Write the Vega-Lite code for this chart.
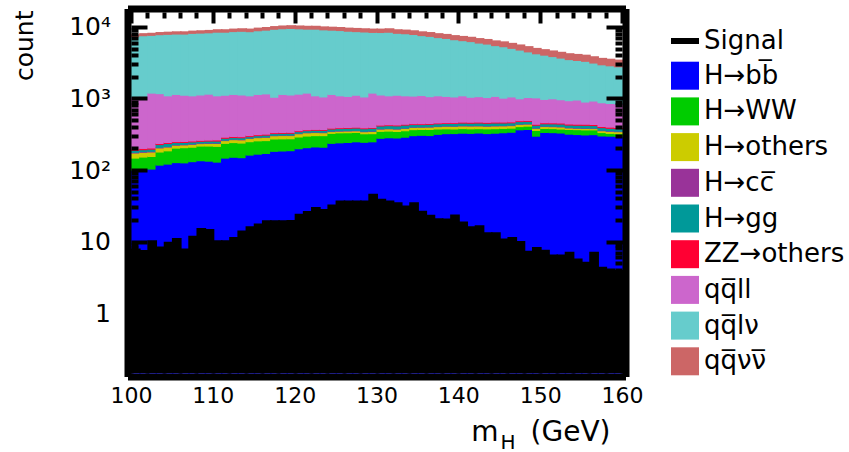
{
  "$schema": "https://vega.github.io/schema/vega-lite/v6.json",
  "width": 491,
  "height": 361,
  "autosize": {"type": "none"},
  "padding": {"left": 131, "top": 12, "right": 227, "bottom": 79},
  "background": "white",
  "config": {
    "font": "DejaVu Sans",
    "view": {"stroke": null},
    "axis": {"grid": false, "domain": false, "ticks": false, "labels": false, "labelOverlap": false, "labelFlush": false, "titleColor": "black", "labelColor": "black", "tickColor": "black", "domainColor": "black", "tickWidth": 4}
  },
  "datasets": {
    "mass": [
      {"m": 100, "signal": 8, "bb": 100, "WW": 48, "others": 26, "cc": 4, "gg": 12, "ZZ": 8, "qqll": 852, "qqlv": 6297, "qqvv": 553},
      {"m": 101, "signal": 7.6, "bb": 103, "WW": 50, "others": 25, "cc": 4, "gg": 12, "ZZ": 8, "qqll": 878, "qqlv": 6538, "qqvv": 582},
      {"m": 102, "signal": 10.4, "bb": 104, "WW": 52, "others": 24, "cc": 4, "gg": 13, "ZZ": 8, "qqll": 995, "qqlv": 6502, "qqvv": 598},
      {"m": 103, "signal": 8.5, "bb": 118, "WW": 62, "others": 25, "cc": 4, "gg": 20, "ZZ": 8, "qqll": 943, "qqlv": 6691, "qqvv": 629},
      {"m": 104, "signal": 9.9, "bb": 122, "WW": 65, "others": 24, "cc": 4, "gg": 22, "ZZ": 8, "qqll": 855, "qqlv": 6855, "qqvv": 645},
      {"m": 105, "signal": 11.2, "bb": 128, "WW": 76, "others": 20, "cc": 4, "gg": 16, "ZZ": 8, "qqll": 898, "qqlv": 6889, "qqvv": 661},
      {"m": 106, "signal": 8, "bb": 127, "WW": 80, "others": 19, "cc": 4, "gg": 15, "ZZ": 8, "qqll": 867, "qqlv": 6910, "qqvv": 670},
      {"m": 107, "signal": 12, "bb": 132, "WW": 78, "others": 20, "cc": 4, "gg": 15, "ZZ": 8, "qqll": 843, "qqlv": 7106, "qqvv": 694},
      {"m": 108, "signal": 15.5, "bb": 136, "WW": 82, "others": 18, "cc": 4, "gg": 14, "ZZ": 8, "qqll": 868, "qqlv": 7150, "qqvv": 720},
      {"m": 109, "signal": 15, "bb": 134, "WW": 84, "others": 19, "cc": 4, "gg": 15, "ZZ": 8, "qqll": 896, "qqlv": 7203, "qqvv": 737},
      {"m": 110, "signal": 10.4, "bb": 130, "WW": 86, "others": 21, "cc": 4, "gg": 15, "ZZ": 10, "qqll": 834, "qqlv": 7437, "qqvv": 763},
      {"m": 111, "signal": 10.4, "bb": 148, "WW": 90, "others": 22, "cc": 4, "gg": 16, "ZZ": 10, "qqll": 830, "qqlv": 7408, "qqvv": 772},
      {"m": 112, "signal": 11.6, "bb": 152, "WW": 92, "others": 24, "cc": 4, "gg": 15, "ZZ": 10, "qqll": 853, "qqlv": 7552, "qqvv": 798},
      {"m": 113, "signal": 14.3, "bb": 150, "WW": 90, "others": 26, "cc": 4, "gg": 15, "ZZ": 10, "qqll": 835, "qqlv": 7644, "qqvv": 826},
      {"m": 114, "signal": 16.3, "bb": 163, "WW": 88, "others": 27, "cc": 4, "gg": 14, "ZZ": 10, "qqll": 794, "qqlv": 7573, "qqvv": 827},
      {"m": 115, "signal": 17.8, "bb": 168, "WW": 90, "others": 28, "cc": 4, "gg": 15, "ZZ": 10, "qqll": 835, "qqlv": 7788, "qqvv": 862},
      {"m": 116, "signal": 19.8, "bb": 172, "WW": 88, "others": 29, "cc": 4, "gg": 17, "ZZ": 10, "qqll": 850, "qqlv": 7940, "qqvv": 890},
      {"m": 117, "signal": 19.8, "bb": 184, "WW": 90, "others": 30, "cc": 4, "gg": 18, "ZZ": 10, "qqll": 714, "qqlv": 8323, "qqvv": 927},
      {"m": 118, "signal": 19.8, "bb": 186, "WW": 89, "others": 31, "cc": 4, "gg": 18, "ZZ": 10, "qqll": 812, "qqlv": 8384, "qqvv": 966},
      {"m": 119, "signal": 20, "bb": 188, "WW": 88, "others": 30, "cc": 4, "gg": 19, "ZZ": 10, "qqll": 791, "qqlv": 8484, "qqvv": 986},
      {"m": 120, "signal": 24.5, "bb": 200, "WW": 92, "others": 32, "cc": 5, "gg": 18, "ZZ": 11, "qqll": 802, "qqlv": 8353, "qqvv": 987},
      {"m": 121, "signal": 26.7, "bb": 207, "WW": 94, "others": 33, "cc": 5, "gg": 19, "ZZ": 11, "qqll": 831, "qqlv": 8212, "qqvv": 988},
      {"m": 122, "signal": 30.3, "bb": 212, "WW": 93, "others": 32, "cc": 5, "gg": 20, "ZZ": 11, "qqll": 727, "qqlv": 8302, "qqvv": 998},
      {"m": 123, "signal": 28.5, "bb": 210, "WW": 95, "others": 30, "cc": 5, "gg": 21, "ZZ": 11, "qqll": 688, "qqlv": 8140, "qqvv": 1000},
      {"m": 124, "signal": 33, "bb": 238, "WW": 90, "others": 20, "cc": 5, "gg": 24, "ZZ": 11, "qqll": 762, "qqlv": 7950, "qqvv": 1000},
      {"m": 125, "signal": 37.5, "bb": 242, "WW": 92, "others": 18, "cc": 5, "gg": 26, "ZZ": 11, "qqll": 706, "qqlv": 7900, "qqvv": 1000},
      {"m": 126, "signal": 37.5, "bb": 245, "WW": 90, "others": 19, "cc": 5, "gg": 27, "ZZ": 11, "qqll": 683, "qqlv": 7720, "qqvv": 1000},
      {"m": 127, "signal": 37.5, "bb": 250, "WW": 88, "others": 18, "cc": 5, "gg": 28, "ZZ": 11, "qqll": 720, "qqlv": 7571, "qqvv": 1009},
      {"m": 128, "signal": 37.5, "bb": 246, "WW": 78, "others": 22, "cc": 5, "gg": 30, "ZZ": 11, "qqll": 668, "qqlv": 7522, "qqvv": 1018},
      {"m": 129, "signal": 46.4, "bb": 250, "WW": 75, "others": 24, "cc": 5, "gg": 32, "ZZ": 11, "qqll": 803, "qqlv": 7264, "qqvv": 1036},
      {"m": 130, "signal": 39.6, "bb": 280, "WW": 70, "others": 26, "cc": 5, "gg": 35, "ZZ": 12, "qqll": 702, "qqlv": 7315, "qqvv": 1055},
      {"m": 131, "signal": 37.5, "bb": 285, "WW": 68, "others": 27, "cc": 5, "gg": 36, "ZZ": 12, "qqll": 667, "qqlv": 7415, "qqvv": 1085},
      {"m": 132, "signal": 35.5, "bb": 283, "WW": 66, "others": 27, "cc": 5, "gg": 37, "ZZ": 12, "qqll": 690, "qqlv": 7110, "qqvv": 1070},
      {"m": 133, "signal": 32, "bb": 290, "WW": 67, "others": 28, "cc": 5, "gg": 38, "ZZ": 12, "qqll": 660, "qqlv": 7024, "qqvv": 1076},
      {"m": 134, "signal": 35.5, "bb": 305, "WW": 65, "others": 28, "cc": 5, "gg": 33, "ZZ": 12, "qqll": 642, "qqlv": 6839, "qqvv": 1071},
      {"m": 135, "signal": 27, "bb": 308, "WW": 64, "others": 27, "cc": 5, "gg": 32, "ZZ": 12, "qqll": 662, "qqlv": 6537, "qqvv": 1053},
      {"m": 136, "signal": 23.7, "bb": 306, "WW": 66, "others": 29, "cc": 5, "gg": 33, "ZZ": 12, "qqll": 619, "qqlv": 6376, "qqvv": 1054},
      {"m": 137, "signal": 21.2, "bb": 318, "WW": 60, "others": 30, "cc": 5, "gg": 34, "ZZ": 12, "qqll": 641, "qqlv": 6067, "qqvv": 1033},
      {"m": 138, "signal": 20.9, "bb": 325, "WW": 55, "others": 33, "cc": 5, "gg": 33, "ZZ": 12, "qqll": 617, "qqlv": 5896, "qqvv": 1024},
      {"m": 139, "signal": 23.9, "bb": 326, "WW": 52, "others": 34, "cc": 5, "gg": 34, "ZZ": 12, "qqll": 597, "qqlv": 5639, "qqvv": 1001},
      {"m": 140, "signal": 19.1, "bb": 330, "WW": 53, "others": 33, "cc": 6, "gg": 35, "ZZ": 14, "qqll": 629, "qqlv": 5395, "qqvv": 1005},
      {"m": 141, "signal": 16.3, "bb": 328, "WW": 52, "others": 35, "cc": 6, "gg": 34, "ZZ": 14, "qqll": 581, "qqlv": 5250, "qqvv": 1000},
      {"m": 142, "signal": 16.9, "bb": 332, "WW": 50, "others": 34, "cc": 6, "gg": 36, "ZZ": 14, "qqll": 598, "qqlv": 4943, "qqvv": 987},
      {"m": 143, "signal": 13.5, "bb": 326, "WW": 54, "others": 33, "cc": 6, "gg": 35, "ZZ": 14, "qqll": 572, "qqlv": 4781, "qqvv": 979},
      {"m": 144, "signal": 13.5, "bb": 330, "WW": 52, "others": 34, "cc": 6, "gg": 36, "ZZ": 14, "qqll": 608, "qqlv": 4458, "qqvv": 962},
      {"m": 145, "signal": 11, "bb": 335, "WW": 50, "others": 32, "cc": 6, "gg": 35, "ZZ": 14, "qqll": 548, "qqlv": 4329, "qqvv": 951},
      {"m": 146, "signal": 11.6, "bb": 340, "WW": 48, "others": 33, "cc": 6, "gg": 34, "ZZ": 14, "qqll": 585, "qqlv": 4010, "qqvv": 930},
      {"m": 147, "signal": 10.2, "bb": 368, "WW": 40, "others": 30, "cc": 6, "gg": 36, "ZZ": 14, "qqll": 506, "qqlv": 3799, "qqvv": 901},
      {"m": 148, "signal": 7.4, "bb": 372, "WW": 42, "others": 28, "cc": 6, "gg": 35, "ZZ": 14, "qqll": 543, "qqlv": 3485, "qqvv": 875},
      {"m": 149, "signal": 8.4, "bb": 300, "WW": 60, "others": 26, "cc": 6, "gg": 34, "ZZ": 14, "qqll": 590, "qqlv": 3228, "qqvv": 842},
      {"m": 150, "signal": 7.7, "bb": 338, "WW": 46, "others": 25, "cc": 6, "gg": 32, "ZZ": 15, "qqll": 518, "qqlv": 3092, "qqvv": 828},
      {"m": 151, "signal": 6.6, "bb": 336, "WW": 47, "others": 24, "cc": 6, "gg": 33, "ZZ": 15, "qqll": 539, "qqlv": 2892, "qqvv": 808},
      {"m": 152, "signal": 6.6, "bb": 332, "WW": 45, "others": 26, "cc": 6, "gg": 34, "ZZ": 15, "qqll": 512, "qqlv": 2738, "qqvv": 792},
      {"m": 153, "signal": 7.2, "bb": 320, "WW": 52, "others": 18, "cc": 6, "gg": 33, "ZZ": 15, "qqll": 496, "qqlv": 2590, "qqvv": 770},
      {"m": 154, "signal": 5.8, "bb": 316, "WW": 54, "others": 16, "cc": 6, "gg": 34, "ZZ": 15, "qqll": 519, "qqlv": 2471, "qqvv": 769},
      {"m": 155, "signal": 5.2, "bb": 312, "WW": 55, "others": 17, "cc": 6, "gg": 35, "ZZ": 15, "qqll": 460, "qqlv": 2437, "qqvv": 763},
      {"m": 156, "signal": 7.2, "bb": 315, "WW": 52, "others": 16, "cc": 6, "gg": 33, "ZZ": 15, "qqll": 493, "qqlv": 2229, "qqvv": 741},
      {"m": 157, "signal": 4.45, "bb": 302, "WW": 35, "others": 20, "cc": 6, "gg": 32, "ZZ": 15, "qqll": 470, "qqlv": 2106, "qqvv": 714},
      {"m": 158, "signal": 4.2, "bb": 300, "WW": 28, "others": 22, "cc": 6, "gg": 30, "ZZ": 15, "qqll": 459, "qqlv": 2031, "qqvv": 709},
      {"m": 159, "signal": 4, "bb": 298, "WW": 27, "others": 21, "cc": 6, "gg": 30, "ZZ": 15, "qqll": 453, "qqlv": 1950, "qqvv": 700}
    ]
  },
  "data": {"name": "mass"},
  "transform": [{"calculate": "datum.m + 1", "as": "m_end"}],
  "resolve": {"axis": {"x": "independent", "y": "independent"}},
  "layer": [
    {
      "transform": [
        {"fold": ["bb", "WW", "others", "cc", "gg", "ZZ", "qqll", "qqlv", "qqvv"], "as": ["process", "count"]},
        {"stack": "count", "groupby": ["m"], "as": ["lo", "hi"]}
      ],
      "mark": {"type": "rect", "x2Offset": 1.5, "y2Offset": 0.8, "invalid": "show"},
      "encoding": {
        "x": {"field": "m", "type": "quantitative",
          "scale": {"domain": [100, 160], "nice": false, "zero": false},
          "axis": {"orient": "bottom", "values": [100, 110, 120, 130, 140, 150, 160], "zindex": 1,
            "labels": true, "labelFontSize": 22, "labelPadding": 9,
            "domain": true, "domainWidth": 7, "domainCap": "square", "offset": 3.5,
            "title": "(GeV)", "titleFontSize": 28, "titleFontWeight": "normal", "titleAlign": "right", "titleAnchor": "end",
            "titleX": 479, "titleY": 63.5, "titleBaseline": "alphabetic"}},
        "x2": {"field": "m_end"},
        "y": {"field": "hi", "type": "quantitative",
          "scale": {"type": "log", "domain": [0.145, 16200], "nice": false, "clamp": true},
          "axis": {"orient": "left", "values": [1, 10, 100, 1000, 10000], "zindex": 1,
            "labels": true, "labelFontSize": 25, "labelPadding": 17,
            "labelExpr": "datum.value == 10000 ? '10\u2074' : datum.value == 1000 ? '10\u00b3' : datum.value == 100 ? '10\u00b2' : datum.label",
            "domain": true, "domainWidth": 7, "domainCap": "square", "offset": 3.5,
            "title": "count", "titleFontSize": 25, "titleFontWeight": "normal", "titleAlign": "right", "titleAnchor": "end",
            "titleX": -103.5, "titleY": -2, "titleBaseline": "middle", "titleAngle": 270}},
        "y2": {"field": "lo"},
        "color": {"field": "process", "type": "nominal",
          "scale": {"domain": ["signal", "bb", "WW", "others", "cc", "gg", "ZZ", "qqll", "qqlv", "qqvv"],
            "range": ["#000000", "#0000ff", "#00cc00", "#cccc00", "#993399", "#009999", "#ff0033", "#cc66cc", "#66cccc", "#cc6666"]},
          "legend": {"orient": "none", "legendX": 541, "legendY": 16, "title": null, "padding": 0,
            "symbolType": "square", "symbolSize": 784, "symbolStrokeWidth": 0, "symbolOpacity": 1,
            "labelFontSize": 26, "labelColor": "black", "labelOffset": 6, "rowPadding": 7.7,
            "labelExpr": "['Signal','H\u2192bb\u0305','H\u2192WW','H\u2192others','H\u2192cc\u0305','H\u2192gg','ZZ\u2192others','qq\u0305ll','qq\u0305l\u03bd','qq\u0305\u03bd\u03bd\u0305'][indexof(['signal','bb','WW','others','cc','gg','ZZ','qqll','qqlv','qqvv'], datum.value)]",
            "encode": {"symbols": {"update": {
              "shape": {"signal": "datum.value === 'signal' ? 'stroke' : 'square'"},
              "stroke": {"signal": "datum.value === 'signal' ? '#000000' : 'transparent'"},
              "strokeWidth": {"signal": "datum.value === 'signal' ? 6 : 0"}}}}}}
      }
    },
    {
      "mark": {"type": "rect", "x2Offset": 1.5, "color": "black"},
      "encoding": {
        "x": {"field": "m", "type": "quantitative",
          "axis": {"orient": "bottom", "values": [100, 110, 120, 130, 140, 150, 160], "ticks": true, "tickSize": -11, "zindex": 1,
            "title": "m", "titleFontSize": 28, "titleFontWeight": "normal", "titleAlign": "right", "titleAnchor": "end",
            "titleX": 367, "titleY": 67, "titleBaseline": "alphabetic"}},
        "x2": {"field": "m_end"},
        "y": {"field": "signal", "type": "quantitative",
          "axis": {"orient": "left", "values": [1, 10, 100, 1000, 10000], "ticks": true, "tickSize": -16, "zindex": 1, "title": null}},
        "y2": {"datum": 0.01},
        "color": {"datum": "signal", "type": "nominal"}
      }
    },
    {
      "mark": {"type": "point", "opacity": 0},
      "encoding": {
        "x": {"field": "m", "type": "quantitative",
          "axis": {"orient": "bottom", "values": [102, 104, 106, 108, 112, 114, 116, 118, 122, 124, 126, 128, 132, 134, 136, 138, 142, 144, 146, 148, 152, 154, 156, 158],
            "ticks": true, "tickSize": -6, "zindex": 1,
            "title": "H", "titleFontSize": 20, "titleFontWeight": "normal", "titleAlign": "left", "titleAnchor": "start",
            "titleX": 369, "titleY": 75, "titleBaseline": "alphabetic"}},
        "y": {"field": "signal", "type": "quantitative",
          "axis": {"orient": "left", "values": [0.2, 0.3, 0.4, 0.5, 0.6, 0.7, 0.8, 0.9, 2, 3, 4, 5, 6, 7, 8, 9, 20, 30, 40, 50, 60, 70, 80, 90, 200, 300, 400, 500, 600, 700, 800, 900, 2000, 3000, 4000, 5000, 6000, 7000, 8000, 9000],
            "ticks": true, "tickSize": -7, "zindex": 1, "title": null}}
      }
    },
    {
      "mark": {"type": "point", "opacity": 0},
      "encoding": {
        "x": {"field": "m", "type": "quantitative",
          "axis": {"orient": "top", "values": [100, 110, 120, 130, 140, 150, 160], "ticks": true, "tickSize": -14.5, "zindex": 1,
            "domain": true, "domainWidth": 7, "domainCap": "square", "offset": 3.5, "title": null}},
        "y": {"field": "signal", "type": "quantitative",
          "axis": {"orient": "right", "values": [1, 10, 100, 1000, 10000], "ticks": true, "tickSize": -19.5, "zindex": 1,
            "domain": true, "domainWidth": 7, "domainCap": "square", "offset": 3.5, "title": null}}
      }
    },
    {
      "mark": {"type": "point", "opacity": 0},
      "encoding": {
        "x": {"field": "m", "type": "quantitative",
          "axis": {"orient": "top", "values": [102, 104, 106, 108, 112, 114, 116, 118, 122, 124, 126, 128, 132, 134, 136, 138, 142, 144, 146, 148, 152, 154, 156, 158],
            "ticks": true, "tickSize": -6, "zindex": 1, "title": null}},
        "y": {"field": "signal", "type": "quantitative",
          "axis": {"orient": "right", "values": [0.2, 0.3, 0.4, 0.5, 0.6, 0.7, 0.8, 0.9, 2, 3, 4, 5, 6, 7, 8, 9, 20, 30, 40, 50, 60, 70, 80, 90, 200, 300, 400, 500, 600, 700, 800, 900, 2000, 3000, 4000, 5000, 6000, 7000, 8000, 9000],
            "ticks": true, "tickSize": -7, "zindex": 1, "title": null}}
      }
    }
  ]
}
